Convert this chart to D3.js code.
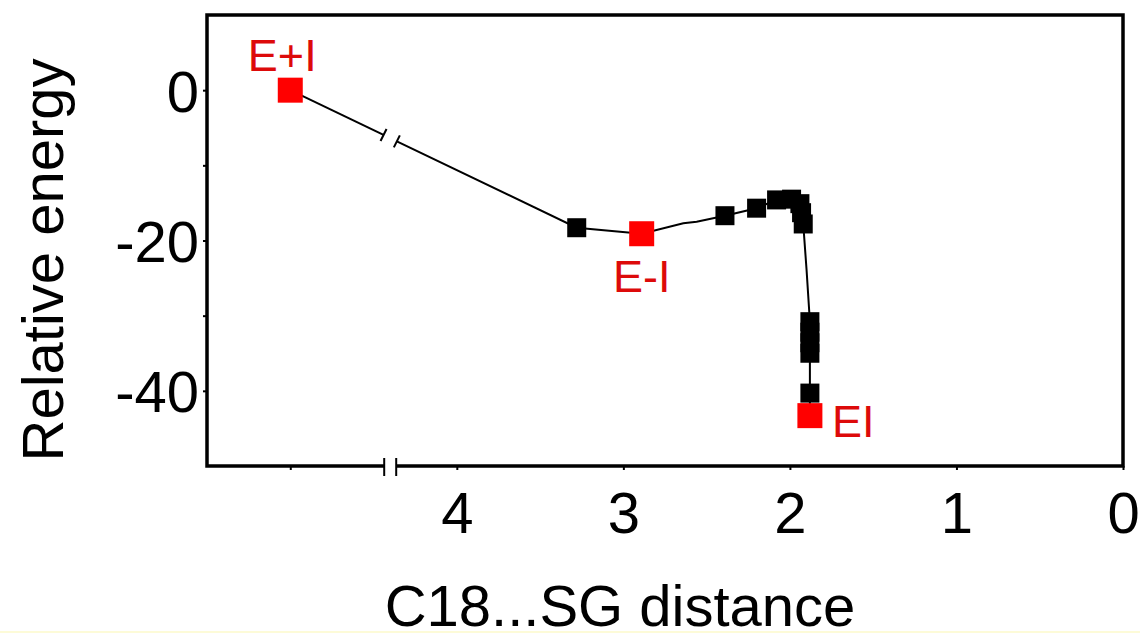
<!DOCTYPE html>
<html>
<head>
<meta charset="utf-8">
<script src="https://cdn.jsdelivr.net/npm/d3@7"></script>
<style>
  html, body { margin: 0; padding: 0; background: #ffffff; }
  svg { display: block; }
  text { font-family: "Liberation Sans", Arial, sans-serif; }
</style>
</head>
<body>
<div id="chart"></div>
<script>
// path of the line (distance, energy), includes a few unmarked bends
var lineDist   = [5.0, 3.28, 2.89, 2.64, 2.56, 2.39, 2.20, 2.08, 1.99, 1.94, 1.93, 1.92, 1.90, 1.88, 1.88, 1.88, 1.88, 1.88, 1.88];
var lineEnergy = [0, -18.3, -19.1, -17.7, -17.5, -16.7, -15.7, -14.6, -14.5, -15.1, -16.3, -17.8, -23.9, -30.8, -32.2, -33.6, -35.0, -40.3, -43.3];

// black markers
var blackDist   = [3.28, 2.39, 2.20, 2.08, 1.99, 1.94, 1.93, 1.92, 1.88, 1.88, 1.88, 1.88, 1.88];
var blackEnergy = [-18.3, -16.7, -15.7, -14.6, -14.5, -15.1, -16.3, -17.8, -30.8, -32.2, -33.6, -35.0, -40.3];

// red states
var redNames  = ["E+I", "E-I", "EI"];
var redDist   = [5.0, 2.89, 1.88];
var redEnergy = [0, -19.1, -43.3];

var xTicks = [5, 4, 3, 2, 1, 0];
var xTickLabels = ["", "4", "3", "2", "1", "0"];
var yTicks = [0, -10, -20, -30, -40];
var yTickLabels = ["0", "", "-20", "", "-40"];

var axisBreak = 4.40;   // where the distance axis is broken

var width = 1140, height = 633;
var padL = 207, padR = 1123, padT = 15, padB = 466;

var svg = d3.select("#chart").append("svg")
    .attr("width", width)
    .attr("height", height);

svg.append("rect").attr("x", 0).attr("y", 0).attr("width", width).attr("height", height).attr("fill", "#ffffff");
svg.append("rect").attr("x", 0).attr("y", height - 2).attr("width", width).attr("height", 2).attr("fill", "#fdfbd8");

var x = d3.scaleLinear().domain([5.5, 0]).range([padL, padR]);
var y = d3.scaleLinear().domain([10, -50]).range([padT, padB]);

// axes (tiny outward ticks)
var xAxis = d3.axisBottom(x).tickValues(xTicks).tickSize(4).tickPadding(22)
    .tickFormat(function(d, i) { return xTickLabels[i]; });
var yAxis = d3.axisLeft(y).tickValues(yTicks).tickSize(4).tickPadding(4)
    .tickFormat(function(d, i) { return yTickLabels[i]; });

var gx = svg.append("g").attr("transform", "translate(0," + padB + ")").call(xAxis);
var gy = svg.append("g").attr("transform", "translate(" + padL + ",0)").call(yAxis);
[gx, gy].forEach(function(g) {
  g.select(".domain").remove();
  g.selectAll(".tick line").attr("stroke", "#000").attr("stroke-width", 2);
  g.selectAll(".tick text").attr("fill", "#000").style("font-size", "58px")
    .style("font-family", "'Liberation Sans', Arial, sans-serif");
});
gx.selectAll(".tick text").attr("dy", "0.71em");
gy.selectAll(".tick text").attr("dy", "0.36em");

// frame
svg.append("rect")
  .attr("x", padL).attr("y", padT)
  .attr("width", padR - padL).attr("height", padB - padT)
  .attr("fill", "none").attr("stroke", "#000").attr("stroke-width", 3.5);

// break on the x axis
var bx = x(axisBreak);
svg.append("rect").attr("x", bx - 6).attr("y", padB - 3).attr("width", 12).attr("height", 6).attr("fill", "#fff");
[-6, 6].forEach(function(o) {
  svg.append("line")
    .attr("x1", bx + o).attr("x2", bx + o)
    .attr("y1", padB - 8).attr("y2", padB + 10)
    .attr("stroke", "#000").attr("stroke-width", 2);
});

// the line
var pts = lineDist.map(function(d, i) { return [d, lineEnergy[i]]; });
var line = d3.line().x(function(d) { return x(d[0]); }).y(function(d) { return y(d[1]); });

// split the first segment at the break
var p0 = pts[0], p1 = pts[1];
function atDist(dv) {
  var t = (dv - p0[0]) / (p1[0] - p0[0]);
  return [dv, p0[1] + t * (p1[1] - p0[1])];
}
var gapHalf = 0.04;
var bA = atDist(axisBreak + gapHalf), bB = atDist(axisBreak - gapHalf);

svg.append("path").datum([p0, bA]).attr("d", line)
  .attr("fill", "none").attr("stroke", "#000").attr("stroke-width", 2);
svg.append("path").datum([bB].concat(pts.slice(1))).attr("d", line)
  .attr("fill", "none").attr("stroke", "#000").attr("stroke-width", 2);

// break marks on the line
[bA, bB].forEach(function(p) {
  var cx = x(p[0]), cy = y(p[1]);
  svg.append("line")
    .attr("x1", cx - 3).attr("y1", cy + 6)
    .attr("x2", cx + 3).attr("y2", cy - 6)
    .attr("stroke", "#000").attr("stroke-width", 2);
});

// black squares
var bs = 19;
svg.append("g").selectAll("rect")
  .data(blackDist.map(function(d, i) { return [d, blackEnergy[i]]; }))
  .enter().append("rect")
  .attr("x", function(d) { return x(d[0]) - bs / 2; })
  .attr("y", function(d) { return y(d[1]) - bs / 2; })
  .attr("width", bs).attr("height", bs)
  .attr("fill", "#000");

// red squares
var rs = 25;
var reds = redNames.map(function(n, i) { return { name: n, d: redDist[i], e: redEnergy[i] }; });
svg.append("g").selectAll("rect")
  .data(reds).enter().append("rect")
  .attr("x", function(d) { return x(d.d) - rs / 2; })
  .attr("y", function(d) { return y(d.e) - rs / 2; })
  .attr("width", rs).attr("height", rs)
  .attr("fill", "#ff0000");

// red labels
var labelPos = [
  { dx: -8, dy: -19, anchor: "middle" },
  { dx: 0, dy: 58, anchor: "middle" },
  { dx: 22, dy: 21, anchor: "start" }
];
svg.append("g").selectAll("text")
  .data(reds).enter().append("text")
  .attr("x", function(d, i) { return x(d.d) + labelPos[i].dx; })
  .attr("y", function(d, i) { return y(d.e) + labelPos[i].dy; })
  .attr("text-anchor", function(d, i) { return labelPos[i].anchor; })
  .attr("fill", "#dd0a0a")
  .style("font-size", "45px")
  .text(function(d) { return d.name; });

// axis titles
svg.append("text")
  .attr("x", 620).attr("y", 626)
  .attr("text-anchor", "middle")
  .style("font-size", "58px")
  .text("C18...SG distance");

svg.append("text")
  .attr("transform", "translate(63," + 260 + ") rotate(-90)")
  .attr("text-anchor", "middle")
  .style("font-size", "58px")
  .text("Relative energy");
</script>
</body>
</html>
